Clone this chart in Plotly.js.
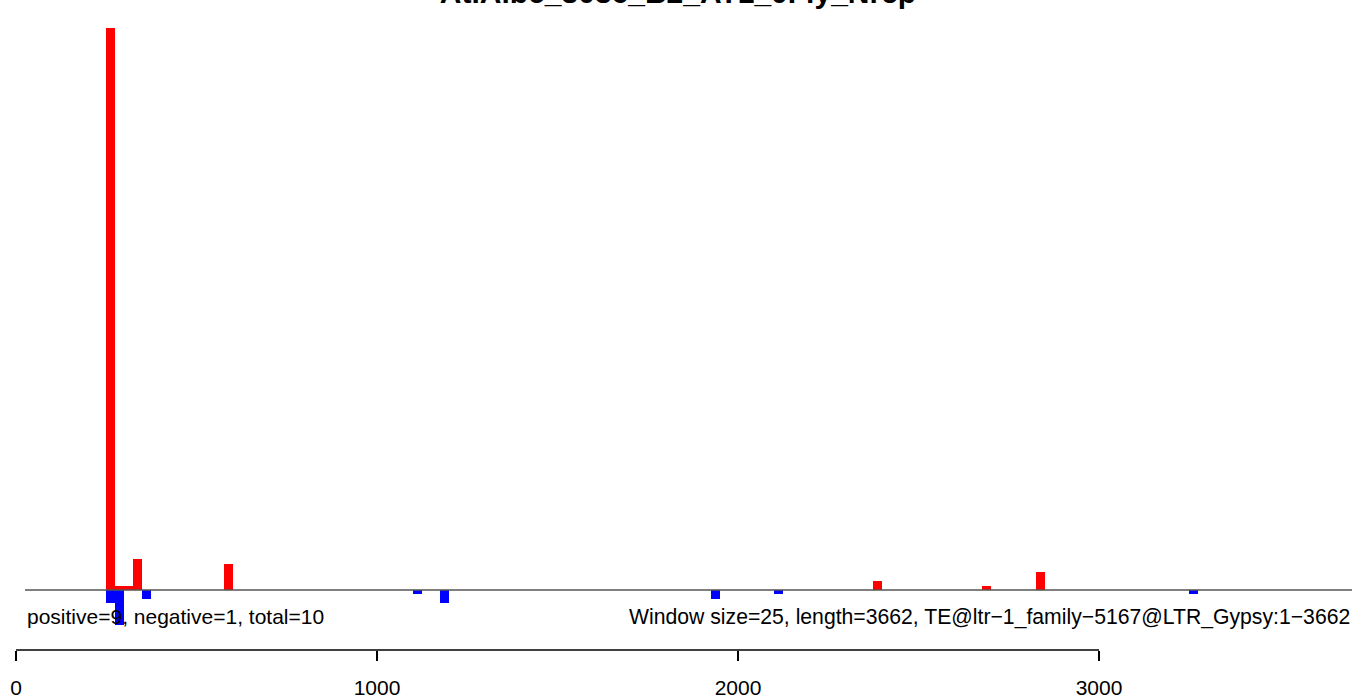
<!DOCTYPE html>
<html>
<head>
<meta charset="utf-8">
<script src="https://cdn.plot.ly/plotly-3.0.1.min.js"></script>
<style>html,body{margin:0;padding:0;background:#fff;}#chart{width:1357px;height:700px;}</style>
</head>
<body>
<div id="chart"></div>
<script>
// Data
const chartTitle = "At.Albc_3036_B2_AT1_0Fly_Nrep";
const windowSize = 25;
const posBins = [250, 275, 300, 325, 575, 2375, 2675, 2825];
const posValues = [128, 1, 1, 7, 6, 2, 1, 4];
const negBins = [250, 275, 350, 1100, 1175, 1925, 2100, 3250];
const negValues = [-3, -8, -2, -1, -3, -2, -1, -1];
const tickVals = [0, 1000, 2000, 3000];
const tickText = ["0", "1000", "2000", "3000"];
const leftNote = "positive=9, negative=1, total=10";
const rightNote = "Window size=25, length=3662, TE@ltr\u22121_family\u22125167@LTR_Gypsy:1\u22123662";

const font = "Liberation Sans, Arial, Helvetica, sans-serif";
const fs = 21;

const traces = [
  {type: 'bar', x: posBins, y: posValues, width: windowSize, offset: 0,
   marker: {color: '#FF0000', line: {width: 0}}, hoverinfo: 'x+y', showlegend: false},
  {type: 'bar', x: negBins, y: negValues, width: windowSize, offset: 0,
   marker: {color: '#0000FF', line: {width: 0}}, hoverinfo: 'x+y', showlegend: false}
];

const layout = {
  width: 1357, height: 700,
  margin: {l: 0, r: 0, t: 0, b: 50, pad: 0},
  paper_bgcolor: '#fff', plot_bgcolor: '#fff',
  font: {family: font, size: fs, color: '#000'},
  barmode: 'overlay', bargap: 0,
  title: {text: '<b>' + chartTitle + '</b>', font: {family: font, size: 30, color: '#000'},
          x: 678/1357, xanchor: 'center', xref: 'container', yref: 'container',
          y: 1 - 3/700, yanchor: 'bottom', pad: {t: 0, b: 0, l: 0, r: 0}},
  xaxis: {range: [-44.3, 3714.7], showgrid: false, zeroline: false, showline: false,
          ticks: 'outside', ticklen: 10, tickwidth: 1.5, tickcolor: '#000',
          tickvals: tickVals, ticktext: tickText, tickfont: {family: font, size: fs, color: '#000'},
          ticklabelstandoff: 9, fixedrange: true},
  yaxis: {range: [-13.67, 134.4], visible: false, showgrid: false, zeroline: false, fixedrange: true},
  shapes: [
    {type: 'line', xref: 'paper', yref: 'y', x0: 25/1357, x1: 1352/1357, y0: 0, y1: 0,
     line: {color: '#555555', width: 1.5}, layer: 'above'},
    {type: 'line', xref: 'x', yref: 'paper', x0: tickVals[0], x1: tickVals[tickVals.length-1], y0: 0, y1: 0,
     line: {color: '#000', width: 1.5}}
  ],
  annotations: [
    {text: leftNote, xref: 'paper', yref: 'y', x: 25/1357, y: -6.15, xanchor: 'left', yanchor: 'middle',
     showarrow: false, font: {family: font, size: fs, color: '#000'}},
    {text: rightNote, xref: 'paper', yref: 'y', x: 1352/1357, y: -6.15, xanchor: 'right', yanchor: 'middle',
     showarrow: false, font: {family: font, size: 21.2, color: '#000'}}
  ]
};

Plotly.newPlot('chart', traces, layout, {displayModeBar: false, staticPlot: true});
</script>
</body>
</html>
